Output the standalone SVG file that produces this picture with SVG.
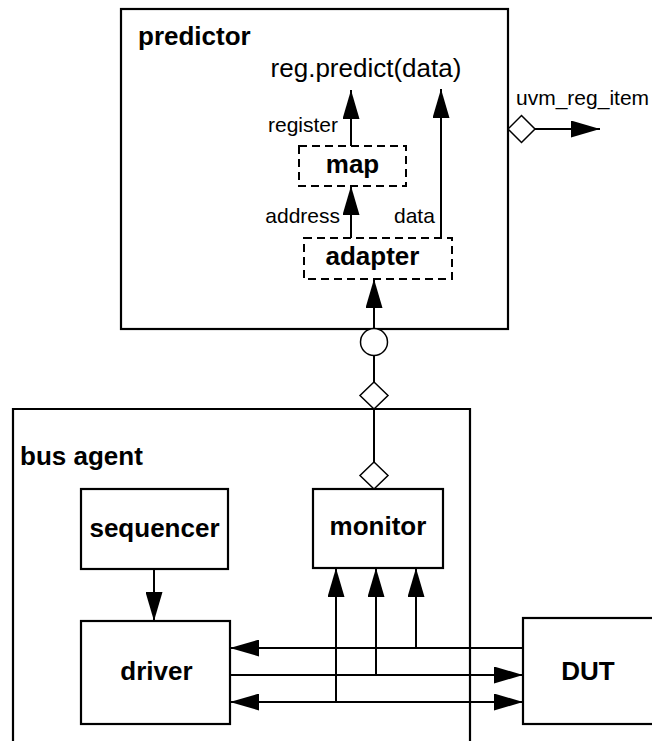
<svg xmlns="http://www.w3.org/2000/svg" width="652" height="741" viewBox="0 0 652 741">
<style>
  .box { fill: #fff; stroke: #000; stroke-width: 2.2; }
  .dash { fill: #fff; stroke: #000; stroke-width: 2; stroke-dasharray: 8 5; }
  .bold { font-family: "Liberation Sans", Arial, sans-serif; font-weight: bold; font-size: 26px; fill: #000; }
  .reg { font-family: "Liberation Sans", Arial, sans-serif; font-size: 26px; fill: #000; }
  .lbl { font-family: "Liberation Sans", Arial, sans-serif; font-size: 21px; fill: #000; }
  .mid { text-anchor: middle; }
  .end { text-anchor: end; }
  .wire { fill: none; stroke: #000; stroke-width: 2; }
  .arr { fill: none; stroke: #000; stroke-width: 2; marker-end: url(#ah); }
  .port { fill: #fff; stroke: #000; stroke-width: 1.5; }
</style>
<defs>
  <marker id="ah" markerUnits="userSpaceOnUse" viewBox="0 0 29 17" refX="29" refY="8.5" markerWidth="29" markerHeight="17" orient="auto-start-reverse">
    <path d="M0,0 L29,8.5 L0,17 Z" fill="#000"/>
  </marker>
</defs>

<g id="predictor">
  <rect class="box" x="121" y="9" width="387" height="320"/>
  <text class="bold" x="138" y="45">predictor</text>
  <text class="reg mid" x="366" y="77">reg.predict(data)</text>
</g>

<g id="map">
  <rect class="dash" x="299" y="146" width="107" height="40"/>
  <text class="bold mid" x="352.5" y="173">map</text>
</g>

<g id="adapter">
  <rect class="dash" x="304" y="238" width="148" height="41"/>
  <text class="bold mid" x="372.5" y="265">adapter</text>
</g>

<g id="bus_agent">
  <path class="box" d="M13,760 V409 H470 V760" fill="none"/>
  <text class="bold" x="20" y="465">bus agent</text>
</g>

<g id="sequencer">
  <rect class="box" x="81" y="489" width="147" height="80"/>
  <text class="bold mid" x="154.5" y="537">sequencer</text>
</g>

<g id="monitor">
  <rect class="box" x="313" y="489" width="130" height="79"/>
  <text class="bold mid" x="378" y="535">monitor</text>
</g>

<g id="driver">
  <rect class="box" x="81" y="621" width="149" height="103"/>
  <text class="bold mid" x="156.5" y="680">driver</text>
</g>

<g id="DUT">
  <rect class="box" x="523" y="618" width="140" height="106"/>
  <text class="bold mid" x="588" y="680">DUT</text>
</g>

<g id="connectors">
  <!-- predictor internals -->
  <line class="arr" x1="351" y1="146" x2="351" y2="90"/>
  <line class="arr" x1="351" y1="238" x2="351" y2="186"/>
  <line class="arr" x1="441" y1="238" x2="441" y2="89"/>
  <line class="arr" x1="374" y1="328" x2="374" y2="279"/>
  <text class="lbl end" x="338" y="132">register</text>
  <text class="lbl end" x="340" y="223">address</text>
  <text class="lbl" x="394" y="223">data</text>

  <!-- uvm_reg_item output -->
  <line class="arr" x1="535" y1="129" x2="600" y2="129"/>
  <polygon class="port" points="508,129 521.5,115.5 535,129 521.5,142.5"/>
  <text class="lbl" x="516" y="105">uvm_reg_item</text>

  <!-- predictor to monitor -->
  <line class="wire" x1="374" y1="355" x2="374" y2="382"/>
  <line class="wire" x1="374" y1="409" x2="374" y2="462"/>
  <circle class="port" cx="374" cy="342" r="13.5"/>
  <polygon class="port" points="374,382 388,395.5 374,409 360,395.5"/>
  <polygon class="port" points="374,462 388,475.5 374,489 360,475.5"/>

  <!-- sequencer to driver -->
  <line class="arr" x1="154" y1="569" x2="154" y2="621"/>

  <!-- driver <-> DUT buses -->
  <line class="arr" x1="523" y1="648" x2="230" y2="648"/>
  <line class="arr" x1="230" y1="675" x2="523" y2="675"/>
  <line class="arr" x1="230" y1="702" x2="523" y2="702" style="marker-start:url(#ah)"/>

  <!-- taps to monitor -->
  <line class="arr" x1="336" y1="702" x2="336" y2="568"/>
  <line class="arr" x1="376" y1="675" x2="376" y2="568"/>
  <line class="arr" x1="416" y1="648" x2="416" y2="568"/>
</g>
</svg>
